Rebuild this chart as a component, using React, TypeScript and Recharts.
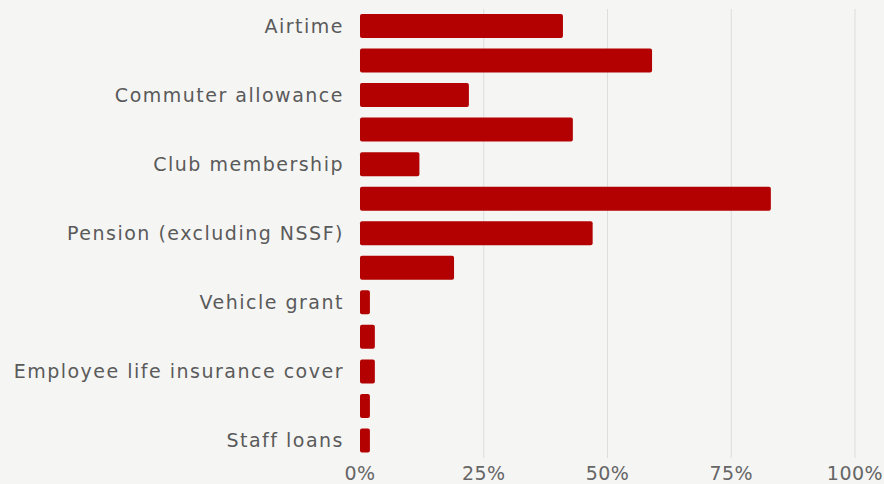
import { BarChart, Bar, XAxis, YAxis, CartesianGrid } from "recharts";

// categories top to bottom; only every other one is labelled in the chart
const BENEFITS = [
  "Airtime",
  "Leave allowance",
  "Commuter allowance",
  "Housing allowance",
  "Club membership",
  "Medical cover",
  "Pension (excluding NSSF)",
  "Car loans",
  "Vehicle grant",
  "School fees",
  "Employee life insurance cover",
  "Mortgage",
  "Staff loans",
];

// share of companies offering the benefit, in %
const SHARE = [41, 59, 22, 43, 12, 83, 47, 19, 2, 3, 3, 2, 2];

const X_TICKS = [0, 25, 50, 75, 100];

const data = BENEFITS.map((name, i) => ({ name, share: SHARE[i] }));

const FONT = "'DejaVu Sans', sans-serif";

// grid lines at every tick but 0 (the bars cover that one anyway)
const gridX = ({ offset }: any) =>
  X_TICKS.slice(1).map((v) => offset.left + (offset.width * v) / 100);

export default function App() {
  return (
    <div
      style={{
        position: "fixed",
        top: 0,
        left: 0,
        width: 884,
        height: 484,
        background: "#f5f5f4",
        fontFamily: FONT,
      }}
    >
      <BarChart
        width={884}
        height={484}
        data={data}
        layout="vertical"
        margin={{ top: 9, right: 29, left: 0, bottom: 0 }}
        barSize={24}
      >
        <CartesianGrid horizontal={false} stroke="#dddddd" verticalCoordinatesGenerator={gridX} />
        <XAxis
          type="number"
          domain={[0, 100]}
          ticks={X_TICKS}
          tickFormatter={(v) => `${v}%`}
          axisLine={false}
          tickLine={false}
          tickSize={0}
          tickMargin={9}
          height={26}
          interval={0}
          tick={{ fontSize: 19, fill: "#666666", fontFamily: FONT, letterSpacing: 0.5 }}
        />
        <YAxis
          type="category"
          dataKey="name"
          width={360}
          interval={1}
          axisLine={false}
          tickLine={false}
          tickSize={0}
          tickMargin={16}
          tick={{ fontSize: 19, fill: "#5a5a5a", fontFamily: FONT, letterSpacing: 1.5 }}
        />
        <Bar dataKey="share" fill="#b30000" radius={2} isAnimationActive={false} />
      </BarChart>
    </div>
  );
}
